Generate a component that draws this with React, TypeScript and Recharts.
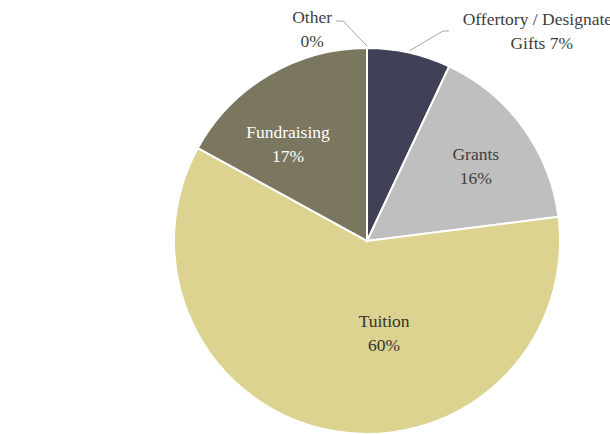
import { PieChart, Pie, Cell } from 'recharts';

const categories = ['Offertory / Designated Gifts', 'Grants', 'Tuition', 'Fundraising', 'Other'];
const shares = [7, 16, 60, 17, 0];
const labelLines = [
  ['Offertory / Designated', 'Gifts 7%'],
  ['Grants', '16%'],
  ['Tuition', '60%'],
  ['Fundraising', '17%'],
  ['Other', '0%'],
];

const data = categories.map((name, i) => ({ name, value: shares[i] }));

const COLORS = ['#404156', '#bfbfbf', '#dbd38f', '#7a7660'];
const TEXT_COLORS = ['#404040', '#404040', '#333333', '#ffffff', '#404040'];

// label placement: radius, shift from mid angle (deg), and whether it sits outside with a leader
const LAYOUT = [
  { r: 273, shift: -27.2, outside: true, elbow: [443, 31], end: 449 },
  { r: 132, shift: -1.5, outside: false },
  { r: 94, shift: 21.3, outside: false },
  { r: 125, shift: 8.6, outside: false },
  { r: 219, shift: 14.5, outside: true, elbow: [343, 21], end: 336 },
];

const RAD = Math.PI / 180;
const FONT = '"Liberation Serif", "Times New Roman", serif';

const renderLabel = (props: any) => {
  const { cx, cy, midAngle, outerRadius, index } = props;
  const lay = LAYOUT[index];
  const a = midAngle + lay.shift;
  const x = cx + lay.r * Math.cos(-a * RAD);
  const y = cy + lay.r * Math.sin(-a * RAD);
  const lines = labelLines[index];
  let leader = null;
  if (lay.outside && lay.elbow) {
    const sx = cx + (outerRadius + 2) * Math.cos(-midAngle * RAD);
    const sy = cy + (outerRadius + 2) * Math.sin(-midAngle * RAD);
    leader = (
      <polyline
        points={`${sx},${sy} ${lay.elbow[0]},${lay.elbow[1]} ${lay.end},${lay.elbow[1]}`}
        fill="none"
        stroke="#a6a6a6"
        strokeWidth={1}
      />
    );
  }
  return (
    <g key={`lbl-${index}`}>
      {leader}
      <text
        x={x}
        y={y}
        textAnchor="middle"
        fill={TEXT_COLORS[index]}
        fontFamily={FONT}
        fontSize={17.5}
      >
        <tspan x={x} dy={-6}>{lines[0]}</tspan>
        <tspan x={x} dy={24}>{lines[1]}</tspan>
      </text>
    </g>
  );
};

export default function App() {
  return (
    <div style={{ position: 'absolute', left: 0, top: 0, width: 610, height: 434, background: '#fff', overflow: 'hidden' }}>
      <PieChart width={610} height={434} margin={{ top: 0, right: 0, bottom: 0, left: 0 }}>
        <Pie
          data={data}
          dataKey="value"
          nameKey="name"
          cx={367}
          cy={241}
          outerRadius={193}
          startAngle={90}
          endAngle={-270}
          stroke="#ffffff"
          strokeWidth={2}
          label={renderLabel}
          labelLine={false}
          isAnimationActive={false}
        >
          {data.map((_, i) => (
            <Cell key={`c-${i}`} fill={COLORS[i % COLORS.length]} />
          ))}
        </Pie>
      </PieChart>
    </div>
  );
}
